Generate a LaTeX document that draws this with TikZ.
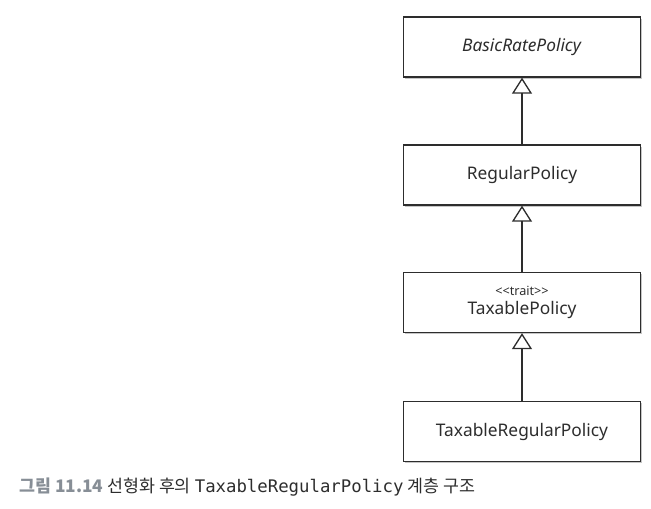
\documentclass[tikz,border=0pt]{standalone}
\usepackage{fontspec}
\setmainfont{Noto Sans}
\newfontfamily\korfont{Noto Sans CJK KR}
\newfontfamily\monofont{DejaVu Sans Mono}
\usetikzlibrary{arrows.meta,shadows}

\definecolor{capgray}{RGB}{135,142,150}
\definecolor{inkdark}{RGB}{45,45,45}

\tikzset{
    classbox/.style={draw=inkdark, line width=1pt, fill=white, minimum width=178pt,
        minimum height=45pt, align=center, font=\fontsize{13}{15}\selectfont, text=inkdark,
        drop shadow={shadow xshift=1.2pt, shadow yshift=-1.5pt, opacity=0.45}},
    inherits/.style={draw=inkdark, line width=1pt,
        -{Triangle[open, width=15pt, length=12pt, line width=1pt]}}
}

\begin{document}
\begin{tikzpicture}[x=0.75pt, y=-0.75pt]
                      \useasboundingbox (0,0) rectangle (651,509);

                      \node[classbox] (basic) at (522,47) {\textit{BasicRatePolicy}};
                      \node[classbox] (regular) at (522,175) {RegularPolicy};
                      \node[classbox] (taxable) at (522,302.5) {{\fontsize{9.5}{10}\selectfont <{}<trait>{}>}\\[-1pt] TaxablePolicy};
                      \node[classbox] (taxreg) at (522,431.5) {TaxableRegularPolicy};

                      \draw[inherits] (regular) -- (basic);
                      \draw[inherits] (taxable) -- (regular);
                      \draw[inherits] (taxreg) -- (taxable);

                      \node[anchor=west, inner sep=0pt, font=\fontsize{13}{15}\selectfont, text=inkdark] (caption) at (19,487)
                          {\korfont\textcolor{capgray}{\bfseries 그림 11.14} 선형화 후의 {\monofont TaxableRegularPolicy} 계층 구조};

                  \end{tikzpicture}
\end{document}
